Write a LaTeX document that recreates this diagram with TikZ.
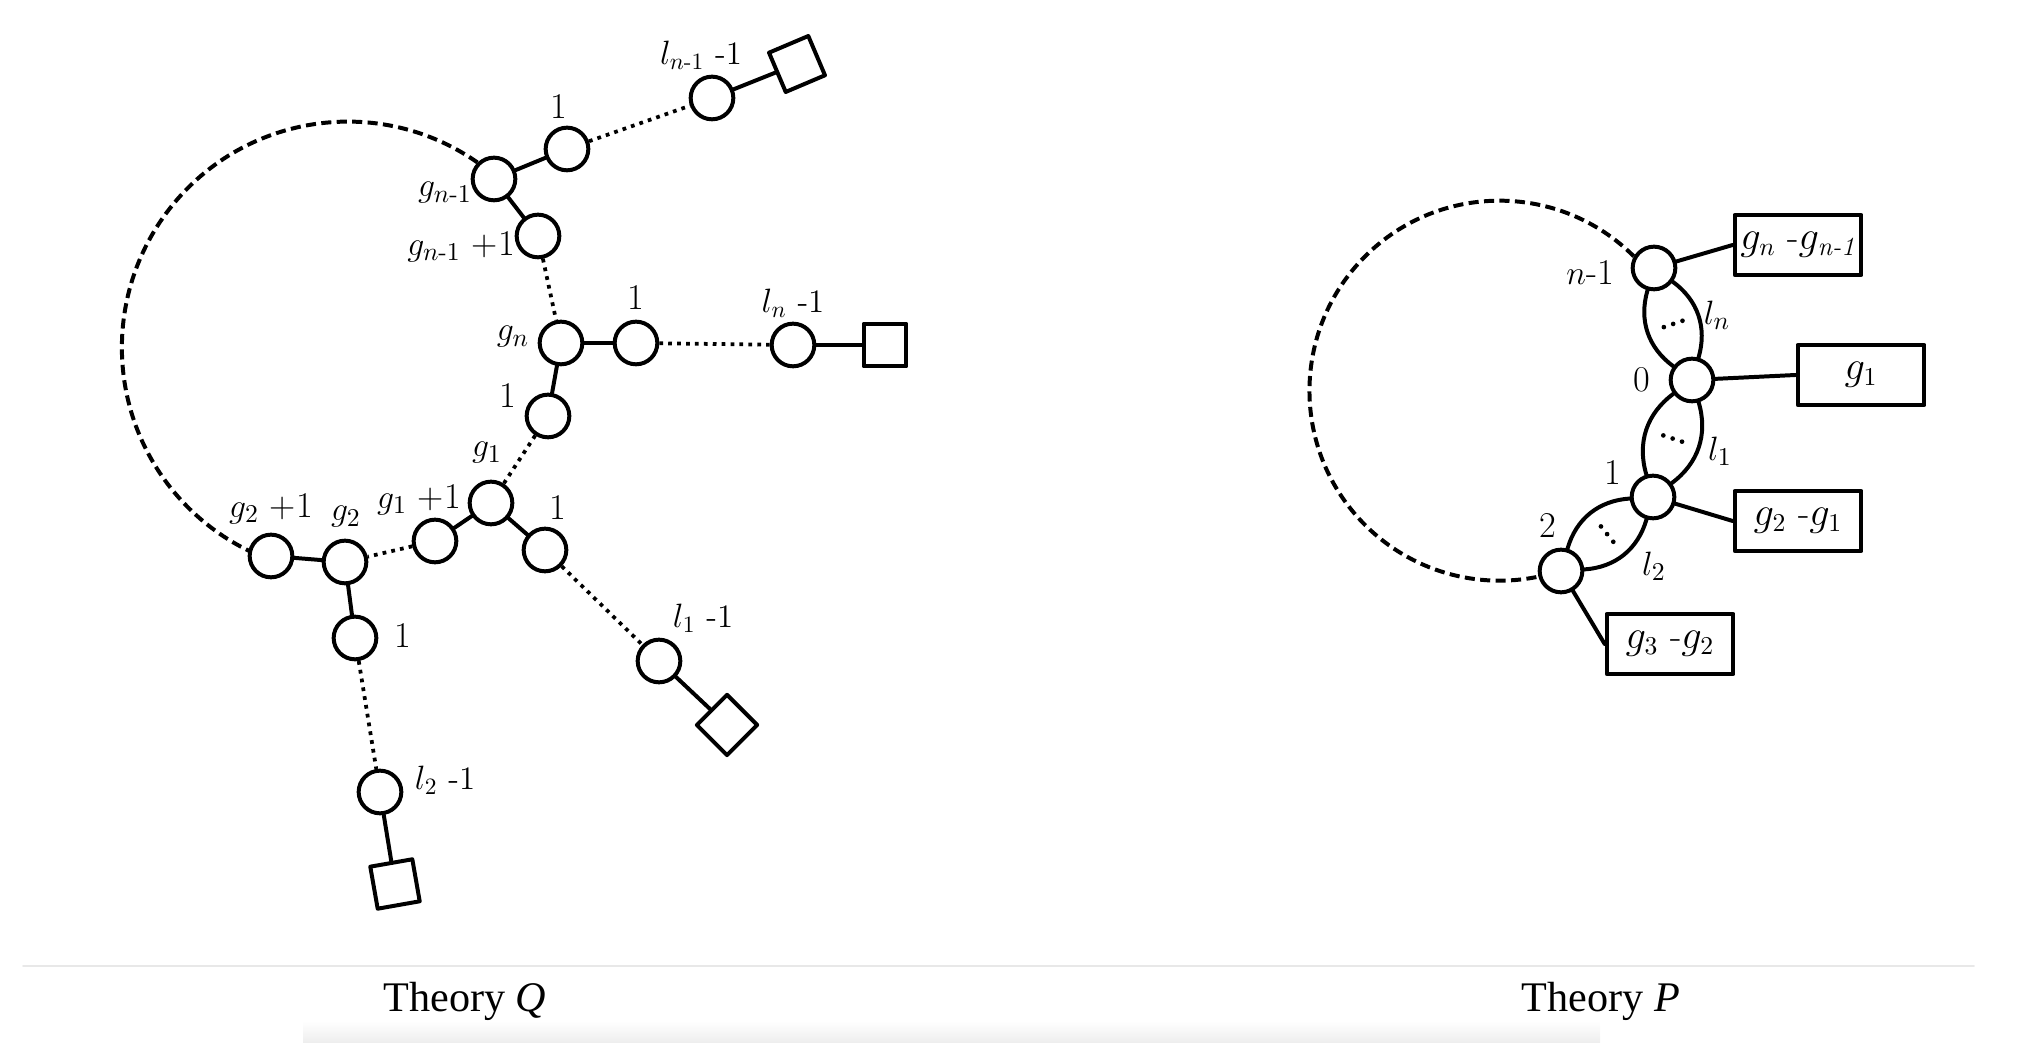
\documentclass[tikz,border=0pt]{standalone}
\usepackage{fontspec}
\usepackage{amsmath}
\newfontfamily\capfont{Liberation Serif}
\usetikzlibrary{calc}
\newcommand{\hy}{\text{-}}

\begin{document}
\begin{tikzpicture}[x=0.015cm, y=0.015cm, line cap=round, line join=round, line width=1.7pt]
  \tikzset{vtx/.style={circle, draw, fill=white, inner sep=0pt, minimum size=0.64cm},
    flav/.style={rectangle, draw, fill=white, inner sep=0pt, minimum size=0.64cm},
    gbox/.style={rectangle, draw, fill=white, inner sep=0pt, minimum width=1.9cm, minimum height=0.9cm, font=\fontsize{16}{18}\selectfont},
    lab/.style={font=\fontsize{15.5}{18}\selectfont, inner sep=0pt},
    llab/.style={font=\fontsize{14}{16}\selectfont, inner sep=0pt},
    dotline/.style={line cap=butt, line width=1.6pt, dash pattern=on 1.6pt off 2.2pt},
    lensdots/.style={line cap=round, line width=2pt, dash pattern=on 0pt off 4.2pt},
    dashline/.style={line cap=butt, dash pattern=on 4.3pt off 2.3pt}}
  \useasboundingbox (0,0) rectangle (2022,1043);

  % Theory Q
  \node[vtx] (gnm) at (494,864) {};
  \node[vtx] (onea) at (567,894) {};
  \node[vtx] (lnm) at (712,945) {};
  \node[flav, rotate=23] (sqa) at (797,979) {};
  \node[vtx] (gnmp) at (538,807) {};
  \node[vtx] (gn) at (561,700) {};
  \node[vtx] (oneb) at (636,700) {};
  \node[vtx] (ln) at (793,698) {};
  \node[flav] (sqb) at (885,698) {};
  \node[vtx] (onec) at (548,627) {};
  \node[vtx] (gone) at (491,540) {};
  \node[vtx] (gonep) at (435,502) {};
  \node[vtx] (oned) at (545,493) {};
  \node[vtx] (lone) at (659,382) {};
  \node[flav, rotate=45] (dia) at (727,318) {};
  \node[vtx] (gtwo) at (345,481) {};
  \node[vtx] (gtwop) at (271,487) {};
  \node[vtx] (onee) at (355,405) {};
  \node[vtx] (ltwo) at (380,251) {};
  \node[flav, rotate=10] (sqc) at (395,159) {};

  \draw (gnm) -- (onea);
  \draw (lnm) -- (sqa);
  \draw (gnm) -- (gnmp);
  \draw (gn) -- (oneb);
  \draw (ln) -- (sqb);
  \draw (gn) -- (onec);
  \draw (gone) -- (gonep);
  \draw (gone) -- (oned);
  \draw (lone) -- (dia);
  \draw (gtwop) -- (gtwo);
  \draw (gtwo) -- (onee);
  \draw (ltwo) -- (sqc);
  \draw[dotline] (onea) -- (lnm);
  \draw[dotline] (gnmp) -- (gn);
  \draw[dotline] (oneb) -- (ln);
  \draw[dotline] (onec) -- (gone);
  \draw[dotline] (gonep) -- (gtwo);
  \draw[dotline] (oned) -- (lone);
  \draw[dotline] (onee) -- (ltwo);
  \draw[dashline] (gnm.135) arc[start angle=55, end angle=244, radius=226];

  \node[lab] at (559,936) {1};
  \node[llab] at (701,988) {$l_{n\hy1}$ -1};
  \node[lab] at (445,850) {$g_{n\hy1}$};
  \node[lab] at (461,796) {$g_{n\hy1}$ +1};
  \node[lab] at (513,706) {$g_n$};
  \node[lab] at (636,745) {1};
  \node[llab] at (793,740) {$l_n$ -1};
  \node[lab] at (508,647) {1};
  \node[lab] at (487,590) {$g_1$};
  \node[lab] at (419,543) {$g_1$ +1};
  \node[lab] at (558,535) {1};
  \node[lab] at (346,526) {$g_2$};
  \node[lab] at (271,534) {$g_2$ +1};
  \node[lab] at (403,407) {1};
  \node[llab] at (703,425) {$l_1$ -1};
  \node[llab] at (445,263) {$l_2$ -1};

  % Theory P
  \node[vtx] (rnm) at (1654,775) {};
  \node[vtx] (rz) at (1692,663) {};
  \node[vtx] (ro) at (1653,546) {};
  \node[vtx] (rt) at (1561,472) {};
  \node[gbox] (ba) at (1798,798) {$g_n$ -$g_{\textit{n-1}}$};
  \node[gbox] (bb) at (1861,668) {$g_1$};
  \node[gbox] (bc) at (1798,522) {$g_2$ -$g_1$};
  \node[gbox] (bd) at (1670,399) {$g_3$ -$g_2$};

  \draw (rnm) -- (ba.west);
  \draw (rz) -- (bb.west);
  \draw (ro) -- (bc.west);
  \draw (rt) -- (bd.west);
  \draw (rnm) to[bend left=35] (rz);
  \draw (rnm) to[bend right=35] (rz);
  \draw (rz) to[bend left=35] (ro);
  \draw (rz) to[bend right=35] (ro);
  \draw (ro) to[bend left=35] (rt);
  \draw (ro) to[bend right=35] (rt);
  \draw[lensdots] ($(rnm)!0.5!(rz)!0.15cm!90:(rz)$) -- ($(rnm)!0.5!(rz)!0.15cm!-90:(rz)$);
  \draw[lensdots] ($(rz)!0.5!(ro)!0.15cm!90:(ro)$) -- ($(rz)!0.5!(ro)!0.15cm!-90:(ro)$);
  \draw[lensdots] ($(ro)!0.5!(rt)!0.15cm!90:(rt)$) -- ($(ro)!0.5!(rt)!0.15cm!-90:(rt)$);
  \draw[dashline] (rnm.150) arc[start angle=45, end angle=282, radius=190];

  \node[lab] at (1590,770) {$n$-1};
  \node[lab] at (1642,663) {0};
  \node[lab] at (1613,570) {1};
  \node[lab] at (1548,517) {2};
  \node[lab] at (1717,728) {$l_n$};
  \node[lab] at (1720,592) {$l_1$};
  \node[lab] at (1654,477) {$l_2$};

  % captions
  \draw[black!9, line width=0.8pt] (23,77) -- (1974,77);
  \shade[top color=white, bottom color=black!7] (303,0) rectangle (1600,22);
  \node[font=\capfont\fontsize{18}{20}\selectfont, anchor=base] (capq) at (465,31) {Theory \textit{Q}};
  \node[font=\capfont\fontsize{18}{20}\selectfont, anchor=base] (capp) at (1601,31) {Theory \textit{P}};
\end{tikzpicture}
\end{document}
